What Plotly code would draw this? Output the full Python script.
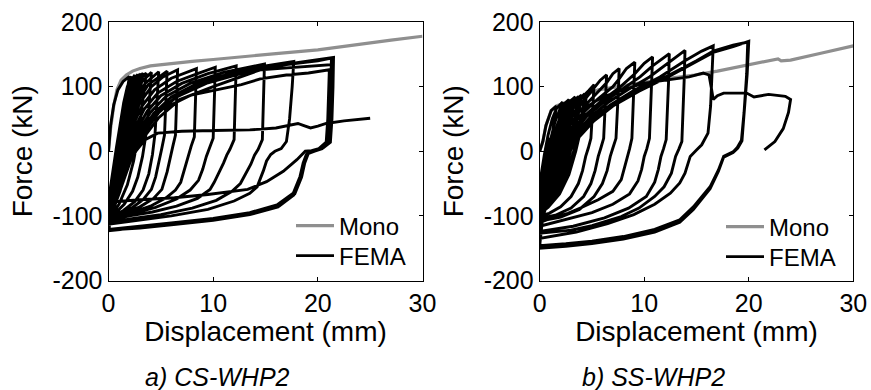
import plotly.graph_objects as go

# ---------------- data: CS-WHP2 (panel a) ----------------
cs_mono_x = [0, 0.2, 0.5, 0.8, 1.2, 1.7, 2.3, 3, 4, 6, 8, 10, 13, 16, 20, 24, 27, 30]
cs_mono_y = [0, 35, 70, 95, 110, 118, 124, 128, 132, 136, 139, 142, 146, 151, 157, 166, 172, 178]

cs_small_cycles = [
    (0, 0), (0.2, 40), (0.5, 72), (0.9, 95), (1.4, 108), (2.0, 116),
    (1.75, 90), (1.45, 55), (1.1, 15), (0.75, -25), (0.4, -60), (0.1, -85), (0, -92),
    (0.15, -60), (0.4, -30), (0.75, 5), (1.1, 40), (1.45, 75), (1.8, 100), (2.2, 116),
    (1.95, 92), (1.6, 55), (1.25, 15), (0.9, -25), (0.5, -62), (0.15, -88), (0, -95),
    (0.15, -65), (0.45, -33), (0.8, 0), (1.2, 40), (1.6, 78), (2.0, 102), (2.5, 118),
    (2.25, 92), (1.9, 55), (1.5, 15), (1.1, -25), (0.65, -62), (0.2, -90), (0, -98),
    (0.15, -70), (0.5, -35), (0.9, 0), (1.35, 40), (1.8, 80), (2.25, 105), (2.8, 119),
    (2.55, 94), (2.2, 58), (1.8, 18), (1.35, -25), (0.85, -62), (0.3, -90), (0, -100),
    (0.2, -70), (0.55, -35), (1.0, 0), (1.5, 42), (2.0, 82), (2.5, 106), (3.1, 120),
    (2.85, 95), (2.5, 60), (2.05, 20), (1.6, -22), (1.0, -62), (0.4, -90), (0, -101),
    (0.2, -72), (0.6, -35), (1.05, 5), (1.5, 48), (1.95, 88), (2.6, 118),
    (2.35, 90), (1.95, 50), (1.55, 10), (1.1, -30), (0.55, -68), (0, -100),
    (0.2, -72), (0.6, -36), (1.1, 2), (1.6, 45), (2.1, 85), (2.7, 108), (3.3, 121),
    (3.05, 96), (2.7, 60), (2.25, 22), (1.75, -22), (1.1, -62), (0.45, -90), (0, -102),
    (0.2, -74), (0.65, -36), (1.15, 4), (1.65, 48), (2.15, 88), (3.0, 120),
    (2.75, 94), (2.35, 55), (1.9, 15), (1.4, -26), (0.8, -65), (0, -102),
]

cs_growing_cycles = [
    (0.2, -74), (0.7, -36), (1.2, 3), (1.75, 48), (2.3, 88), (2.9, 110), (3.6, 121),
    (3.45, 100), (3.2, 65), (2.85, 25), (2.4, -15), (1.8, -52), (1.0, -82), (0.4, -96), (0, -102),
    (0.2, -75), (0.7, -38), (1.25, 2), (1.85, 45), (2.5, 85), (3.2, 108), (4.1, 122),
    (4.0, 100), (3.85, 65), (3.6, 28), (3.25, -8), (2.8, -40), (2.3, -62), (1.5, -82), (0.7, -95), (0, -102),
    (0.2, -76), (0.75, -38), (1.3, 0), (1.95, 42), (2.65, 80), (3.5, 105), (4.8, 123),
    (4.72, 100), (4.62, 65), (4.45, 28), (4.2, -5), (3.85, -35), (3.3, -60), (2.5, -78), (1.4, -92), (0.6, -99), (0, -103),
    (0.2, -77), (0.8, -38), (1.35, 0), (2.0, 40), (2.8, 78), (3.8, 103), (5.6, 124),
    (5.53, 100), (5.45, 60), (5.35, 25), (5.1, 5), (4.85, -15), (4.5, -40), (4.1, -59), (3.3, -75), (2.2, -88), (1.0, -97), (0, -103),
    (0.2, -78), (0.8, -40), (1.4, -2), (2.1, 38), (3.0, 75), (4.1, 100), (5.2, 115), (6.6, 126),
    (6.55, 100), (6.48, 60), (6.4, 25), (6.15, 8), (5.9, -10), (5.6, -32), (5.1, -59), (4.3, -73), (3.0, -86), (1.5, -96), (0, -104),
    (0.2, -80), (0.85, -40), (1.5, -3), (2.2, 35), (3.2, 70), (4.4, 95), (6.0, 113), (8.4, 128),
    (8.35, 100), (8.28, 60), (8.2, 22), (7.9, 8), (7.6, -8), (7.25, -30), (6.9, -48), (6.4, -60), (5.5, -72), (4.0, -85), (2.0, -96), (0, -105),
    (0.25, -82), (0.9, -42), (1.6, -5), (2.4, 32), (3.4, 65), (4.7, 90), (6.5, 108), (8.5, 120), (10.2, 130),
    (10.15, 100), (10.08, 60), (10.0, 20), (9.65, 5), (9.35, -8), (9.0, -28), (8.6, -45), (7.8, -60), (6.5, -74), (4.5, -87), (2.2, -97), (0, -106),
    (0.25, -84), (0.95, -44), (1.7, -7), (2.6, 30), (3.7, 62), (5.0, 86), (7.0, 105), (9.5, 120), (12.2, 132),
    (12.15, 100), (12.08, 60), (12.0, 18), (11.6, 3), (11.3, -6), (11.0, -18), (10.6, -32), (10.1, -48), (9.7, -59), (8.5, -73), (6.5, -85), (4.2, -94), (2.0, -100), (0, -107),
    (0.25, -86), (1.0, -45), (1.8, -8), (2.8, 28), (4.0, 60), (5.5, 85), (7.8, 105), (11, 122), (14.9, 135),
    (14.85, 100), (14.78, 60), (14.7, 18), (14.3, 3), (13.95, -6), (13.6, -20), (13.1, -36), (12.6, -50), (11.8, -62), (10.3, -76), (8.0, -88), (5.0, -98), (2.4, -104), (0, -110),
    (0.3, -90), (1.1, -48), (1.9, -10), (3.0, 26), (4.3, 58), (6.0, 84), (8.5, 105), (12, 122), (15, 132), (17.7, 139),
    (17.55, 100), (17.3, 50), (17.0, 15), (16.5, 4), (15.9, 0), (15.5, -5), (15.1, -15), (14.8, -30), (14.2, -55), (13.5, -65), (12, -77), (9.5, -90), (6, -100), (3, -107), (0, -113),
]

cs_final_cycles = [
    (0.3, -95), (1.1, -52), (2.0, -12), (3.1, 24), (4.5, 56), (6.3, 82), (9, 104), (13, 122), (17, 134), (20, 140), (21.3, 144),
    (21.25, 100), (21.15, 50), (21.05, 13), (20.4, 5), (19.6, 0), (18.9, -5), (18.6, -18), (18.3, -39), (17.65, -65), (16.1, -83), (13.5, -95), (10, -104), (6, -111), (3, -116), (0, -121),
    (0.3, -95), (1.1, -50), (2.0, -10), (3.2, 25), (4.6, 57), (6.5, 84), (9.5, 106), (13.5, 124), (17.5, 136), (21.5, 145),
    (21.45, 100), (21.35, 50), (21.2, 14), (20.5, 5), (19.8, 1), (19.1, -3), (18.75, -18), (18.45, -40), (17.8, -66), (16.3, -85), (13.5, -97), (10, -106), (6, -113), (3, -118), (0, -123),
    (0.3, -98), (1.2, -55), (2.1, -15), (3.3, 20), (4.8, 52), (6.8, 80), (10, 100), (14.5, 126), (18, 130), (21.4, 134),
    (21.35, 100), (21.25, 50), (21.1, 14), (20.4, 4), (19.7, 0), (19.0, -4), (18.65, -20), (18.35, -42), (17.7, -68), (16.2, -86), (13.5, -98), (10, -107), (6, -114), (3, -119), (0, -122),
    (0.3, -95), (1.0, -55), (1.86, -8), (3.8, 38), (5, 64), (7.9, 87), (12.7, 103), (14.5, 112), (17, 118), (19.1, 121), (21.1, 126),
    (21.05, 100), (20.95, 50), (20.8, 14), (20.1, 4), (19.4, 1), (18.8, 0), (18.0, -13), (16.7, -31), (15.1, -47), (13.3, -59), (9.5, -67), (6.3, -72), (3, -75), (0.5, -78),
    (1.0, -55), (1.7, -25), (2.6, 0), (3.5, 18), (4.7, 28), (7, 31), (10, 32), (13.5, 33), (16, 36), (18.1, 43), (18.6, 40), (19.3, 36), (20.0, 39), (20.8, 43), (22.5, 47), (25, 51),
]

# ---------------- data: SS-WHP2 (panel b) ----------------
ss_mono_x = [0, 0.3, 0.6, 1.1, 1.6, 2.2, 3.5, 4.5, 5.6, 7, 9.4, 12, 14.8, 17, 19.8, 22.8, 23.1, 24, 27, 30]
ss_mono_y = [0, 15, 40, 63, 70, 74, 82, 88, 95, 99, 105, 112, 118, 124, 133, 143, 140, 141, 152, 163]

ss_small_cycles = [
    (0, 0), (0.3, 15), (0.6, 40), (1.1, 63), (1.6, 70),
    (1.4, 45), (1.1, 15), (0.75, -15), (0.4, -40), (0.1, -58), (0, -62),
    (0.15, -35), (0.45, -5), (0.8, 25), (1.2, 50), (1.6, 66), (2.2, 76),
    (1.95, 55), (1.6, 25), (1.2, -10), (0.75, -45), (0.3, -72), (0, -80),
    (0.15, -50), (0.5, -20), (0.95, 12), (1.45, 45), (2.0, 68), (2.8, 80),
    (2.55, 58), (2.2, 28), (1.75, -8), (1.2, -42), (0.55, -72), (0, -86),
    (0.2, -56), (0.6, -26), (1.1, 8), (1.7, 42), (2.4, 70), (3.4, 84),
    (3.15, 60), (2.8, 30), (2.35, -5), (1.75, -40), (1.0, -70), (0.35, -86), (0, -90),
    (0.2, -60), (0.7, -30), (1.25, 5), (1.9, 42), (2.7, 70), (4.0, 87),
    (3.75, 62), (3.4, 32), (2.9, -3), (2.3, -38), (1.5, -68), (0.6, -86), (0, -93),
    (0.2, -64), (0.75, -33), (1.35, 3), (2.05, 40), (2.9, 70), (4.5, 90),
    (4.3, 65), (3.95, 35), (3.45, 0), (2.8, -36), (1.9, -66), (0.8, -87), (0, -95),
    (0.2, -66), (0.8, -34), (1.4, 0), (2.1, 38), (2.9, 67), (3.7, 85),
    (3.45, 60), (3.1, 30), (2.6, -5), (2.0, -40), (1.2, -70), (0.4, -89), (0, -95),
    (0.2, -67), (0.8, -35), (1.45, 0), (2.2, 38), (3.1, 68), (4.3, 89),
    (4.1, 64), (3.75, 34), (3.25, 0), (2.6, -36), (1.7, -67), (0.7, -88), (0, -96),
]

ss_growing_cycles = [
    (0.2, -70), (0.85, -36), (1.5, 0), (2.2, 36), (3.1, 64), (4.2, 86), (4.7, 94), (5.2, 103),
    (5.12, 80), (5.02, 50), (4.9, 20), (4.65, 5), (4.4, -8), (4.1, -30), (3.7, -50), (3.0, -70), (2.0, -86), (0.9, -96), (0, -100),
    (0.2, -74), (0.9, -38), (1.6, 0), (2.4, 35), (3.4, 62), (4.5, 84), (5.2, 98), (5.8, 110), (6.4, 118),
    (6.33, 90), (6.24, 55), (6.12, 20), (5.85, 5), (5.6, -8), (5.3, -30), (4.9, -50), (4.2, -70), (3.0, -88), (1.5, -99), (0, -104),
    (0.25, -76), (0.95, -40), (1.7, -2), (2.6, 33), (3.7, 60), (5.0, 82), (6.4, 106), (7.0, 120), (7.6, 128),
    (7.53, 95), (7.44, 58), (7.3, 20), (7.0, 5), (6.75, -8), (6.45, -30), (6.0, -50), (5.2, -70), (3.8, -90), (2.0, -102), (0, -108),
    (0.25, -78), (1.0, -42), (1.8, -4), (2.8, 30), (4.0, 57), (5.5, 80), (7.0, 100), (7.6, 112), (8.3, 128), (9.1, 138),
    (9.03, 100), (8.95, 60), (8.82, 20), (8.6, 4), (8.4, -8), (8.1, -28), (7.8, -44), (7.0, -62), (5.6, -75), (4.0, -87), (2.7, -96), (1.2, -103), (0, -110),
    (0.3, -82), (1.1, -45), (1.9, -6), (3.0, 28), (4.3, 55), (5.9, 78), (7.6, 98), (9.1, 120), (10.0, 136), (10.8, 146),
    (10.72, 105), (10.63, 60), (10.5, 20), (10.25, 4), (10.0, -8), (9.75, -28), (9.4, -46), (8.6, -66), (7.0, -82), (5.0, -95), (2.5, -106), (0, -116),
    (0.3, -86), (1.15, -48), (2.0, -8), (3.1, 26), (4.5, 54), (6.2, 77), (8.0, 97), (9.6, 115), (10.8, 132), (12.4, 151),
    (12.32, 105), (12.22, 60), (12.1, 18), (11.85, 4), (11.6, -8), (11.35, -28), (11.0, -48), (10.2, -70), (8.5, -88), (6.2, -103), (3.2, -116), (0, -124),
    (0.3, -90), (1.2, -50), (2.1, -10), (3.3, 24), (4.8, 52), (6.5, 75), (8.5, 96), (10.5, 115), (12.4, 138), (13.9, 156),
    (13.82, 110), (13.72, 60), (13.6, 15), (13.3, 3), (13.0, -8), (12.6, -34), (11.9, -55), (11.0, -70), (9.5, -88), (7.8, -101), (5.0, -115), (3.0, -122), (0, -127),
    (0.3, -92), (1.2, -52), (2.2, -12), (3.4, 22), (5.0, 50), (6.8, 72), (9.0, 94), (11.5, 115), (13.9, 140), (15.5, 155), (16.6, 163),
    (16.5, 120), (16.35, 70), (16.1, 28), (15.5, 10), (15.0, 2), (14.4, -8), (13.9, -34), (13.4, -49), (12.5, -65), (11.0, -82), (9.0, -98), (6.5, -112), (3.5, -125), (0, -135),
]

ss_final_cycles = [
    (0.3, -98), (1.3, -55), (2.3, -14), (3.6, 20), (5.2, 48), (7.0, 72), (9.5, 95), (12.4, 118), (15.0, 140), (16.6, 155), (18.5, 164), (19.9, 169),
    (19.8, 120), (19.55, 60), (19.3, 17), (18.9, 6), (18.5, -1), (17.6, -8), (17.1, -29), (16.3, -55), (14.7, -86), (13.4, -106), (11, -121), (8, -132), (5, -139), (2.5, -143), (0, -146),
    (0.3, -100), (1.3, -57), (2.3, -15), (3.6, 19), (5.2, 47), (7.0, 70), (9.5, 93), (12.4, 116), (15, 139), (16.6, 153), (18.5, 162), (20.0, 170),
    (19.85, 120), (19.6, 60), (19.35, 16), (18.95, 5), (18.5, -2), (17.6, -9), (17.1, -31), (16.3, -58), (14.7, -90), (13.4, -110), (11, -125), (8, -136), (5, -143), (2.5, -147), (0, -150),
    (0.15, -110), (0.4, -60), (0.65, -20), (0.92, 17), (2.0, 42), (3.5, 59), (6.0, 84), (9.85, 105), (14.3, 115), (15.65, 121), (16.2, 118),
    (16.4, 100), (16.6, 80), (17.0, 86), (17.6, 90), (19.8, 90), (20.5, 84), (21.9, 88), (23.5, 85), (24.0, 80),
    (23.8, 60), (23.3, 35), (22.5, 15), (21.5, 2),
]

# ---------------- axis labels & text ----------------
x_tick_vals = [0, 10, 20, 30]
x_tick_text = ["0", "10", "20", "30"]
y_tick_vals = [-200, -100, 0, 100, 200]
y_tick_text = ["-200", "-100", "0", "100", "200"]
series_names = ["Mono", "FEMA"]
panel_captions = ["a) CS-WHP2", "b) SS-WHP2"]
x_title = "Displacement (mm)"
y_title = "Force (kN)"


def path(*segments):
    xs, ys = [], []
    for seg in segments:
        for x, y in seg:
            xs.append(x)
            ys.append(y)
    return xs, ys


cs_x, cs_y = path(cs_small_cycles, cs_growing_cycles, cs_final_cycles)
ss_x, ss_y = path(ss_small_cycles, ss_growing_cycles, ss_final_cycles)

FONT = "Liberation Sans, Arial, sans-serif"
GRAY = "#8f8f8f"

fig = go.Figure()
fig.add_trace(go.Scatter(x=cs_mono_x, y=cs_mono_y, mode="lines", name=series_names[0],
                         line=dict(color=GRAY, width=3.2), xaxis="x", yaxis="y", legend="legend"))
fig.add_trace(go.Scatter(x=cs_x, y=cs_y, mode="lines", name=series_names[1],
                         line=dict(color="black", width=2.9), xaxis="x", yaxis="y", legend="legend2"))
fig.add_trace(go.Scatter(x=ss_mono_x, y=ss_mono_y, mode="lines", name=series_names[0],
                         line=dict(color=GRAY, width=3.2), xaxis="x2", yaxis="y2", legend="legend3"))
fig.add_trace(go.Scatter(x=ss_x, y=ss_y, mode="lines", name=series_names[1],
                         line=dict(color="black", width=2.9), xaxis="x2", yaxis="y2", legend="legend4"))

W, H = 871, 390
ydom = [(H - 280.5) / H, (H - 22) / H]


def xaxis(dom, anchor):
    return dict(domain=dom, anchor=anchor, range=[0, 30], tickvals=x_tick_vals, ticktext=x_tick_text,
                showline=True, linecolor="black", linewidth=1, mirror="ticks", ticks="inside",
                ticklen=4, tickcolor="black", showgrid=False, zeroline=False, automargin=False,
                tickfont=dict(family=FONT, size=25, color="black"),
                title=dict(text=x_title, font=dict(family=FONT, size=28, color="black"), standoff=1))


def yaxis(anchor):
    return dict(domain=ydom, anchor=anchor, range=[-200, 200], tickvals=y_tick_vals, ticktext=y_tick_text,
                showline=True, linecolor="black", linewidth=1, mirror="ticks", ticks="inside",
                ticklen=4, tickcolor="black", showgrid=False, zeroline=False, automargin=False,
                tickfont=dict(family=FONT, size=25, color="black"),
                title=dict(text=y_title, font=dict(family=FONT, size=28, color="black"), standoff=11))


def legend_at(px, py):
    return dict(x=px / W, y=(H - py) / H, xanchor="left", yanchor="middle",
                font=dict(family=FONT, size=24, color="black"), bgcolor="rgba(0,0,0,0)",
                borderwidth=0, itemwidth=38)


fig.update_layout(
    width=W, height=H,
    margin=dict(l=0, r=0, t=0, b=0, autoexpand=False),
    paper_bgcolor="white", plot_bgcolor="white",
    showlegend=True,
    xaxis=xaxis([108.5 / W, 422.5 / W], "y"),
    yaxis=yaxis("x"),
    xaxis2=xaxis([539.7 / W, 853.3 / W], "y2"),
    yaxis2=yaxis("x2"),
    legend=legend_at(291, 226),
    legend2=legend_at(291, 256),
    legend3=legend_at(721, 227),
    legend4=legend_at(721, 257),
    annotations=[
        dict(text=panel_captions[0], x=217 / W, y=(H - 377) / H, xref="paper", yref="paper",
             showarrow=False, xanchor="center", yanchor="middle",
             font=dict(family=FONT, size=25, color="black", style="italic")),
        dict(text=panel_captions[1], x=653 / W, y=(H - 377) / H, xref="paper", yref="paper",
             showarrow=False, xanchor="center", yanchor="middle",
             font=dict(family=FONT, size=25, color="black", style="italic")),
    ],
)

fig.write_html("out.html", config={"displayModeBar": False},
               post_script="document.body.style.margin='0px';document.body.style.overflow='hidden';")
